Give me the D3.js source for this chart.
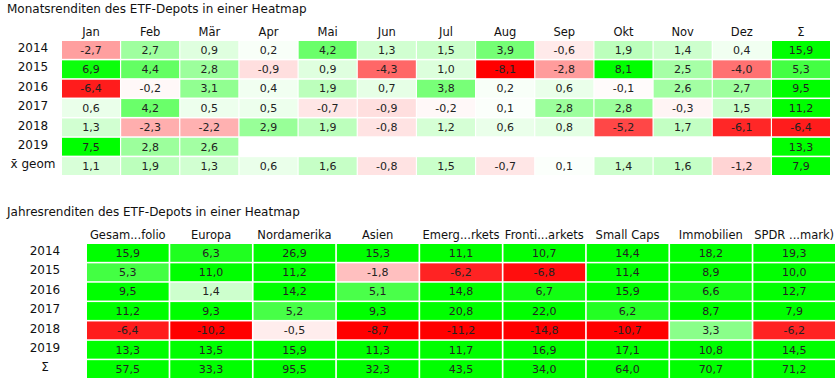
<!DOCTYPE html>
<html>
<head>
<meta charset="utf-8">
<script src="https://cdn.jsdelivr.net/npm/d3@7"></script>
<style>
  body { margin: 0; background: #fff; }
  text { font-family: "DejaVu Sans", sans-serif; }
</style>
</head>
<body>
<svg></svg>
<script>
// monthly returns heatmap + yearly returns heatmap
var width = 838;
var height = 383;

var months = ["Jan", "Feb", "Mär", "Apr", "Mai", "Jun", "Jul", "Aug", "Sep", "Okt", "Nov", "Dez", "Σ"];
var monthRows = ["2014", "2015", "2016", "2017", "2018", "2019", "x̄ geom"];
var monthValues = [
  [-2.7, 2.7, 0.9, 0.2, 4.2, 1.3, 1.5, 3.9, -0.6, 1.9, 1.4, 0.4, 15.9],
  [6.9, 4.4, 2.8, -0.9, 0.9, -4.3, 1.0, -8.1, -2.8, 8.1, 2.5, -4.0, 5.3],
  [-6.4, -0.2, 3.1, 0.4, 1.9, 0.7, 3.8, 0.2, 0.6, -0.1, 2.6, 2.7, 9.5],
  [0.6, 4.2, 0.5, 0.5, -0.7, -0.9, -0.2, 0.1, 2.8, 2.8, -0.3, 1.5, 11.2],
  [1.3, -2.3, -2.2, 2.9, 1.9, -0.8, 1.2, 0.6, 0.8, -5.2, 1.7, -6.1, -6.4],
  [7.5, 2.8, 2.6, null, null, null, null, null, null, null, null, null, 13.3],
  [1.1, 1.9, 1.3, 0.6, 1.6, -0.8, 1.5, -0.7, 0.1, 1.4, 1.6, -1.2, 7.9]
];

var funds = ["Gesam...folio", "Europa", "Nordamerika", "Asien", "Emerg...rkets", "Fronti...arkets", "Small Caps", "Immobilien", "SPDR ...mark)"];
var yearRows = ["2014", "2015", "2016", "2017", "2018", "2019", "Σ"];
var yearValues = [
  [15.9, 6.3, 26.9, 15.3, 11.1, 10.7, 14.4, 18.2, 19.3],
  [5.3, 11.0, 11.2, -1.8, -6.2, -6.8, 11.4, 8.9, 10.0],
  [9.5, 1.4, 14.2, 5.1, 14.8, 6.7, 15.9, 6.6, 12.7],
  [11.2, 9.3, 5.2, 9.3, 20.8, 22.0, 6.2, 8.7, 7.9],
  [-6.4, -10.2, -0.5, -8.7, -11.2, -14.8, -10.7, 3.3, -6.2],
  [13.3, 13.5, 15.9, 11.3, 11.7, 16.9, 17.1, 10.8, 14.5],
  [57.5, 33.3, 95.5, 32.3, 43.5, 34.0, 64.0, 70.7, 71.2]
];

var svg = d3.select("svg")
  .attr("width", width)
  .attr("height", height);

var color = d3.scaleLinear()
  .domain([-7.2, 0, 7.2])
  .range(["#ff0000", "#ffffff", "#00ff00"])
  .clamp(true);

var fmt = function(v) { return v.toFixed(1).replace(".", ","); };

// draw one heatmap block
var drawHeatmap = function(opt) {
  var g = svg.append("g");

  g.append("text")
    .attr("x", 7)
    .attr("y", opt.titleY)
    .attr("dy", "0.35em")
    .style("font-size", "12px")
    .style("fill", "#111")
    .text(opt.title);

  var x = d3.scaleBand()
    .domain(opt.cols)
    .range(opt.xRange)
    .paddingInner(0.02);

  var y = d3.scaleBand()
    .domain(opt.rows)
    .range(opt.yRange)
    .paddingInner(0.08);

  g.selectAll(".colLabel")
    .data(opt.cols)
    .enter()
    .append("text")
      .attr("x", d => x(d) + x.bandwidth() / 2)
      .attr("y", opt.headerY)
      .attr("dy", "0.35em")
      .style("text-anchor", "middle")
      .style("font-size", "11.5px")
      .style("fill", "#111")
      .text(d => d);

  g.selectAll(".rowLabel")
    .data(opt.rows)
    .enter()
    .append("text")
      .attr("x", opt.rowLabelX)
      .attr("y", d => y(d) + y.bandwidth() / 2 - 2)
      .attr("dy", "0.35em")
      .style("text-anchor", "middle")
      .style("font-size", "12px")
      .style("fill", "#111")
      .text(d => d);

  var cells = [];
  opt.values.forEach(function(row, i) {
    row.forEach(function(v, j) {
      if (v !== null) cells.push({ row: opt.rows[i], col: opt.cols[j], value: v });
    });
  });

  g.selectAll("rect")
    .data(cells)
    .enter()
    .append("rect")
      .attr("x", d => x(d.col))
      .attr("y", d => y(d.row))
      .attr("width", x.bandwidth())
      .attr("height", y.bandwidth())
      .style("fill", d => color(d.value));

  g.selectAll(".val")
    .data(cells)
    .enter()
    .append("text")
      .attr("x", d => x(d.col) + x.bandwidth() / 2)
      .attr("y", d => y(d.row) + y.bandwidth() / 2)
      .attr("dy", "0.35em")
      .style("text-anchor", "middle")
      .style("font-size", "11px")
      .style("fill", "#222")
      .text(d => fmt(d.value));
};

drawHeatmap({
  title: "Monatsrenditen des ETF-Depots in einer Heatmap",
  titleY: 9,
  cols: months,
  rows: monthRows,
  values: monthValues,
  xRange: [62, 830],
  yRange: [41, 175],
  headerY: 32,
  rowLabelX: 33
});

drawHeatmap({
  title: "Jahresrenditen des ETF-Depots in einer Heatmap",
  titleY: 212,
  cols: funds,
  rows: yearRows,
  values: yearValues,
  xRange: [87, 835],
  yRange: [244, 378],
  headerY: 235,
  rowLabelX: 45
});
</script>
</body>
</html>
